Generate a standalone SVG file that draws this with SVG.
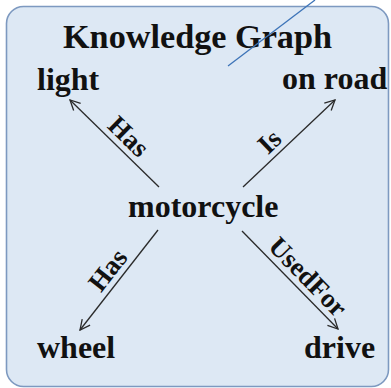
<svg xmlns="http://www.w3.org/2000/svg" width="391" height="388" viewBox="0 0 391 388">
<defs>
<style>
.t{font-family:"Liberation Serif","Times New Roman",serif;font-weight:bold;fill:#111}
.n{font-size:32px}
.l{font-size:27px}
.c{stroke:#2a2a2a;stroke-width:1.3;fill:none;marker-end:url(#ah)}
</style>
<marker id="ah" viewBox="0 0 12 12" refX="11" refY="6" markerWidth="12" markerHeight="12" markerUnits="userSpaceOnUse" orient="auto">
<path d="M1,1 L11,6 L1,11" fill="none" stroke="#2a2a2a" stroke-width="1.3"/>
</marker>
</defs>
<rect x="6.5" y="6.5" width="382" height="380" rx="17" fill="#dde8f4" stroke="#7d99c0" stroke-width="1.6"/>
<text class="t" x="63" y="48" font-size="33" textLength="269" lengthAdjust="spacingAndGlyphs">Knowledge Graph</text>
<line x1="315" y1="0" x2="228" y2="66" stroke="#3d74b8" stroke-width="1.3"/>
<g id="connectors">
<line class="c" x1="159" y1="187" x2="70" y2="100"/>
<line class="c" x1="243" y1="187" x2="335" y2="100"/>
<line class="c" x1="158" y1="230" x2="80" y2="330"/>
<line class="c" x1="242" y1="231" x2="338" y2="329"/>
<text class="t l" transform="translate(118.2,147.1) rotate(44.4)" x="0" y="-6" text-anchor="middle">Has</text>
<text class="t l" transform="translate(279.7,152.3) rotate(-43.4)" x="0" y="-6" text-anchor="middle">Is</text>
<text class="t l" transform="translate(119.5,279.3) rotate(-52)" x="0" y="-6" text-anchor="middle">Has</text>
<text class="t l" transform="translate(297.3,287.4) rotate(45.6)" x="0" y="-6" text-anchor="middle">UsedFor</text>
</g>
<g id="motorcycle"><text class="t n" x="128" y="217">motorcycle</text></g>
<g id="light"><text class="t n" x="37" y="90">light</text></g>
<g id="onroad"><text class="t n" x="282" y="89">on road</text></g>
<g id="wheel"><text class="t n" x="37" y="358">wheel</text></g>
<g id="drive"><text class="t n" x="304" y="358">drive</text></g>
</svg>
